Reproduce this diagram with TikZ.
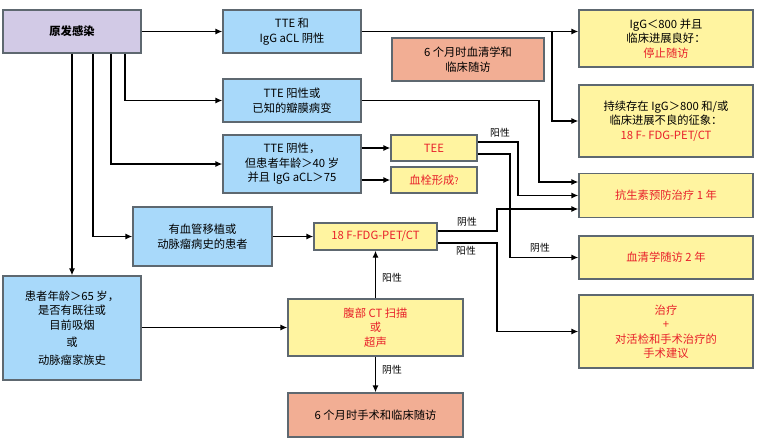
\documentclass[tikz,border=0pt]{standalone}
\usepackage{fontspec}
\setmainfont{Noto Sans CJK SC}
\usepackage{xcolor}
\usepackage{tikz}
\usetikzlibrary{arrows.meta}

\definecolor{boxblue}{HTML}{A8D9FA}
\definecolor{boxyellow}{HTML}{FFF4A0}
\definecolor{boxsalmon}{HTML}{F2AE94}
\definecolor{boxpurple}{HTML}{D2CAE6}
\definecolor{boxedge}{HTML}{5E6870}
\definecolor{redtext}{HTML}{E8202A}

\begin{document}
\begin{tikzpicture}[x=1pt, y=-1pt,
    box/.style={draw=boxedge, line width=1.3pt, align=center, inner sep=2pt,
        font=\fontsize{11.3}{14.5}\selectfont},
    bluebox/.style={box, fill=boxblue},
    yellowbox/.style={box, fill=boxyellow},
    salmonbox/.style={box, fill=boxsalmon},
    purplebox/.style={box, fill=boxpurple},
    redbox/.style={yellowbox, text=redtext},
    arr/.style={-{Latex[length=7pt,width=6pt]}, line width=1.3pt},
    lbl/.style={font=\fontsize{9.8}{11}\selectfont, inner sep=1pt}]
\useasboundingbox (0,0) rectangle (760,442);

% Start
\node[purplebox, minimum width=138, minimum height=43] (inf) at (72,31.5) {\bfseries 原发感染};

% Left column
\node[bluebox, minimum width=138, minimum height=43] (tteneg) at (292,31.5) {TTE 和\\IgG aCL 阴性};
\node[bluebox, minimum width=138, minimum height=43] (ttepos) at (292,100.5) {TTE 阳性或\\已知的瓣膜病变};
\node[bluebox, minimum width=138, minimum height=58] (tteold) at (292,164) {TTE 阴性，\\但患者年龄＞40 岁\\并且 IgG aCL＞75};
\node[bluebox, minimum width=139, minimum height=59] (graft) at (202.5,236.5) {有血管移植或\\动脉瘤病史的患者};
\node[bluebox, minimum width=138, minimum height=104] (risk) at (72,328) {患者年龄＞65 岁，\\是否有既往或\\目前吸烟\\[3pt]或\\[3pt]动脉瘤家族史};

% Middle column
\node[salmonbox, minimum width=152, minimum height=43] (sero6) at (468,59.5) {6 个月时血清学和\\临床随访};
\node[redbox, minimum width=86, minimum height=26] (tee) at (434,148) {TEE};
\node[redbox, minimum width=86, minimum height=26] (thromb) at (434,180) {血栓形成{\small ?}};
\node[redbox, minimum width=123, minimum height=27] (fdg) at (375.5,236.5) {18 F-FDG-PET/CT};
\node[redbox, minimum width=175, minimum height=57] (ctscan) at (375.5,327.5) {腹部 CT 扫描\\或\\超声};
\node[salmonbox, minimum width=175, minimum height=44] (surg) at (375.5,415) {6 个月时手术和临床随访};

% Right column
\node[yellowbox, minimum width=174, minimum height=57] (stop) at (666,38.5) {IgG＜800 并且\\临床进展良好：\\\textcolor{redtext}{停止随访}};
\node[yellowbox, minimum width=174, minimum height=72] (persist) at (666,121) {持续存在 IgG＞800 和/或\\临床进展不良的征象：\\\textcolor{redtext}{18 F- FDG-PET/CT}};
\node[redbox, minimum width=174, minimum height=44] (abx) at (666,195.5) {抗生素预防治疗 1 年};
\node[redbox, minimum width=174, minimum height=43] (sero2) at (666,257.5) {血清学随访 2 年};
\node[redbox, minimum width=174, minimum height=73] (treat) at (666,331.5) {治疗\\+\\对活检和手术治疗的\\手术建议};

% From the start box
\draw[arr] (inf.east) -- (tteneg.west);
\draw[arr] ([xshift=53pt]inf.south) |- (ttepos.west);
\draw[arr] ([xshift=39pt]inf.south) |- (tteold.west);
\draw[arr] ([xshift=21pt]inf.south) |- (graft.west);
\draw[arr] (inf.south) -- (risk.north);

% TTE branches
\coordinate (split) at (552,31.5);
\draw[arr] (tteneg.east) -- (tteneg.east -| stop.west);
\draw[arr] (split) |- (persist.west);
\draw[arr] (ttepos.east) -| (539,150) |- ([yshift=13.5pt]abx.west);
\draw[arr] (tteold.east |- tee.west) -- (tee.west);
\draw[arr] (tteold.east |- thromb.west) -- (thromb.west);

% TEE results
\draw[arr] ([yshift=6pt]tee.east) -| (518,170) |- (abx.west);
\draw[arr] ([yshift=-6pt]tee.east) -| (510,200) |- (sero2.west);
\node[lbl] (teepos) at (500,133) {阳性};
\node[lbl] (teeneg) at (540,248) {阴性};

% PET results
\draw[arr] (graft.east) -- (fdg.west);
\draw[arr] ([yshift=5.5pt]fdg.east) -| (497,220) |- ([yshift=-13.5pt]abx.west);
\draw[arr] ([yshift=-6.5pt]fdg.east) -| (497,300) |- (treat.west);
\node[lbl] (fdgneg) at (467,222) {阴性};
\node[lbl] (fdgpos) at (466,251) {阳性};

% Risk patients
\draw[arr] (risk.east |- ctscan.west) -- (ctscan.west);
\draw[arr] (ctscan.north) -- (fdg.south);
\draw[arr] (ctscan.south) -- (surg.north);
\node[lbl] (ctpos) at (392,278) {阳性};
\node[lbl] (ctneg) at (392,370) {阴性};
\end{tikzpicture}
\end{document}
